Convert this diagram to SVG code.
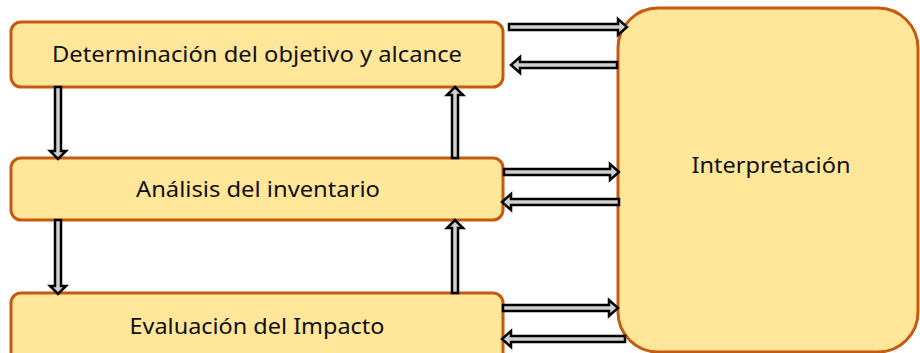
<svg xmlns="http://www.w3.org/2000/svg" width="920" height="353" viewBox="0 0 920 353">
<style>
.box{fill:#FFE699;stroke:#C55A11;stroke-width:3}
.lbl{font-family:"Noto Sans","Liberation Sans",sans-serif;font-size:22px;fill:#111;text-anchor:middle}
.arr{fill:#d0d0d0;stroke:#000;stroke-width:2.5;stroke-linejoin:miter}
</style>
<rect width="920" height="353" fill="#fff"/>
<g id="n1"><rect class="box" x="11" y="22" width="492" height="65" rx="10"/><text class="lbl" x="257" y="62" textLength="410" lengthAdjust="spacingAndGlyphs">Determinación del objetivo y alcance</text></g>
<g id="n2"><rect class="box" x="11" y="158" width="492" height="62" rx="10"/><text class="lbl" x="258" y="197" textLength="244" lengthAdjust="spacingAndGlyphs">Análisis del inventario</text></g>
<g id="n3"><rect class="box" x="11" y="293" width="492" height="75" rx="10"/><text class="lbl" x="257" y="334" textLength="255" lengthAdjust="spacingAndGlyphs">Evaluación del Impacto</text></g>
<g id="n4"><rect class="box" x="618" y="8" width="300" height="344" rx="40"/><text class="lbl" x="771" y="173" textLength="159" lengthAdjust="spacingAndGlyphs">Interpretación</text></g>
<g id="connectors">
<polygon class="arr" points="55,87 61,87 61,151 66,151 58,159 50,151 55,151"/>
<polygon class="arr" points="55,220 61,220 61,286 66,286 58,294 50,286 55,286"/>
<polygon class="arr" points="452,158 458,158 458,95 463,95 455,87 447,95 452,95"/>
<polygon class="arr" points="452,293 458,293 458,228 463,228 455,220 447,228 452,228"/>
<polygon class="arr" points="509,24 618,24 618,19 627,27 618,35 618,30 509,30"/>
<polygon class="arr" points="504,169 610,169 610,164 619,172 610,180 610,175 504,175"/>
<polygon class="arr" points="503,305 609,305 609,300 618,308 609,316 609,311 503,311"/>
<polygon class="arr" points="617,62 520,62 520,57 511,65 520,73 520,68 617,68"/>
<polygon class="arr" points="619,199 511,199 511,194 502,202 511,210 511,205 619,205"/>
<polygon class="arr" points="625,336 511,336 511,331 502,339 511,347 511,342 625,342"/>
</g>
</svg>
